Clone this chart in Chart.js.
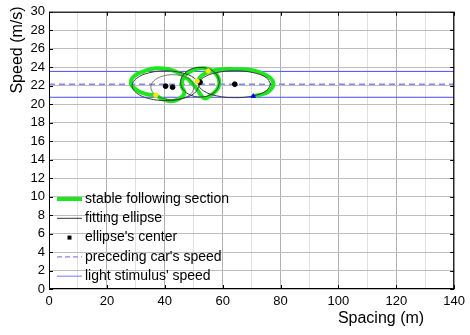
<!DOCTYPE html>
<html>
<head>
<meta charset="utf-8">
<script src="https://cdn.jsdelivr.net/npm/chart.js@4.4.0/dist/chart.umd.min.js"></script>
<style>
  html, body { margin: 0; padding: 0; background: #fff; }
</style>
</head>
<body>
<canvas id="chart" width="470" height="335"></canvas>
<script>
// axis ticks
const xTickLabels = [0, 20, 40, 60, 80, 100, 120, 140];
const yTickLabels = [0, 2, 4, 6, 8, 10, 12, 14, 16, 18, 20, 22, 24, 26, 28, 30];

// green trajectory (spacing m, speed m/s)
const stableLoopLeft = [
  [36.9, 20.98], [33.8, 21.08], [30.4, 21.51], [28.3, 22.27], [29.4, 23.02], [32.8, 23.56],
  [36.9, 23.89], [41.3, 23.78], [45.1, 23.35], [48.1, 22.70], [50.9, 21.73], [53.6, 20.65],
  [56.0, 20.98], [58.4, 21.73], [58.7, 22.70], [56.7, 23.56], [53.3, 23.89], [49.5, 23.67],
  [46.8, 23.02], [45.8, 22.05], [46.8, 21.19], [44.7, 20.54], [42.0, 20.33], [39.3, 20.54],
  [36.9, 20.98]
];
const stableLoopRight = [
  [51.2, 22.49], [52.9, 23.13], [55.7, 23.56], [60.1, 23.78], [65.2, 23.78], [70.3, 23.67],
  [74.4, 23.24], [77.2, 22.59], [77.2, 21.84], [74.8, 21.19], [70.6, 20.87]
];

// fitting ellipses
const ellipseA = [
  [51.9, 22.0], [50.3, 22.8], [46.1, 23.39], [40.3, 23.6], [34.5, 23.39], [30.3, 22.8],
  [28.7, 22.0], [30.3, 21.2], [34.5, 20.61], [40.3, 20.4], [46.1, 20.61], [50.3, 21.2], [51.9, 22.0]
];
const ellipseB = [
  [50.2, 21.84], [49.2, 22.52], [46.5, 23.01], [42.7, 23.19], [39.0, 23.01], [36.2, 22.52],
  [35.2, 21.84], [36.2, 21.17], [39.0, 20.67], [42.7, 20.49], [46.5, 20.67], [49.2, 21.17], [50.2, 21.84]
];
const ellipseC = [
  [58.9, 22.38], [58.0, 23.18], [55.6, 23.77], [52.2, 23.98], [48.9, 23.77], [46.4, 23.18],
  [45.5, 22.38], [46.4, 21.58], [48.9, 20.99], [52.2, 20.78], [55.6, 20.99], [58.0, 21.58], [58.9, 22.38]
];
const ellipseD = [
  [76.7, 22.16], [75.0, 22.89], [70.5, 23.42], [64.2, 23.61], [58.0, 23.42], [53.4, 22.89],
  [51.7, 22.16], [53.4, 21.44], [58.0, 20.9], [64.2, 20.71], [70.5, 20.9], [75.0, 21.44], [76.7, 22.16]
];
const ellipseCenters = [[40.3, 21.95], [42.7, 21.84], [52.2, 22.38], [64.2, 22.16]];

// start / end marks of the sections
const sectionStarts = [[36.9, 20.98], [51.2, 22.49], [55.0, 23.6]];
const sectionEnds = [[70.6, 20.87]];

// reference speeds
const precedingSpeed = 22.15;
const stimulusSpeeds = [23.55, 20.75];
const xRange = [0, 140];

const pts = arr => arr.map(([x, y]) => ({ x, y }));
const hline = y => xRange.map(x => ({ x, y }));

const GREEN = '#1ee61e';
const ELL = '#3a3a3a';
const DASH = '#8585ff';
const SOLID = '#4b4bff';

const labels = {
  stable: 'stable following section',
  ellipse: 'fitting ellipse',
  center: "ellipse's center",
  preceding: "preceding car's speed",
  stimulus: "light stimulus' speed"
};

const lineDs = (data, color, width, extra) => Object.assign({
  data: pts(data), showLine: true, borderColor: color, borderWidth: width,
  pointRadius: 0, fill: false, tension: 0.4
}, extra || {});

const datasets = [
  { data: pts(sectionEnds), pointStyle: 'triangle', pointRadius: 2.5, backgroundColor: '#0000ff', borderColor: '#0000ff', showLine: false },
  { data: pts(sectionStarts), pointRadius: 2.2, backgroundColor: '#ffe600', borderColor: '#ffe600', showLine: false },
  { label: labels.center, data: pts(ellipseCenters), pointRadius: 2.4, backgroundColor: '#000', borderColor: '#000', showLine: false },
  lineDs(ellipseA, ELL, 1, { label: labels.ellipse }),
  lineDs(ellipseB, '#555', 0.8),
  lineDs(ellipseC, ELL, 1),
  lineDs(ellipseD, ELL, 1),
  lineDs(stableLoopLeft, GREEN, 4, { label: labels.stable, tension: 0.45 }),
  lineDs(stableLoopRight, GREEN, 4, { tension: 0.45 }),
  { label: labels.preceding, data: hline(precedingSpeed), showLine: true, borderColor: DASH, borderWidth: 1.5, borderDash: [6, 4], pointRadius: 0 },
  { label: labels.stimulus, data: hline(stimulusSpeeds[0]), showLine: true, borderColor: SOLID, borderWidth: 1, pointRadius: 0 },
  { data: hline(stimulusSpeeds[1]), showLine: true, borderColor: SOLID, borderWidth: 1, pointRadius: 0 }
];

// legend inside the plot, bottom left
const legendRows = [
  { text: labels.stable, kind: 'line', color: GREEN, width: 4 },
  { text: labels.ellipse, kind: 'line', color: '#000', width: 0.8 },
  { text: labels.center, kind: 'dot', color: '#000' },
  { text: labels.preceding, kind: 'line', color: DASH, width: 1.2, dash: [5, 3] },
  { text: labels.stimulus, kind: 'line', color: '#8f8fff', width: 1.2 }
];

const decor = {
  id: 'decor',
  afterDraw(chart) {
    const { ctx, chartArea: a, scales } = chart;
    ctx.save();
    // frame and inner ticks
    ctx.strokeStyle = '#000';
    ctx.lineWidth = 1;
    ctx.strokeRect(a.left + 0.5, a.top + 0.5, a.right - a.left - 1, a.bottom - a.top - 1);
    ctx.beginPath();
    xTickLabels.forEach(v => {
      const x = Math.round(scales.x.getPixelForValue(v)) + 0.5;
      ctx.moveTo(x, a.bottom); ctx.lineTo(x, a.bottom - 4);
      ctx.moveTo(x, a.top); ctx.lineTo(x, a.top + 4);
    });
    yTickLabels.forEach(v => {
      const y = Math.round(scales.y.getPixelForValue(v)) + 0.5;
      ctx.moveTo(a.left, y); ctx.lineTo(a.left + 4, y);
      ctx.moveTo(a.right, y); ctx.lineTo(a.right - 4, y);
    });
    ctx.stroke();

    // legend
    ctx.font = '14px "Liberation Sans", Arial, sans-serif';
    ctx.textBaseline = 'middle';
    ctx.fillStyle = '#000';
    legendRows.forEach((r, i) => {
      const y = a.bottom - 90 + i * 19.3;
      const x0 = a.left + 8, x1 = a.left + 33;
      if (r.kind === 'line') {
        ctx.save();
        ctx.strokeStyle = r.color;
        ctx.lineWidth = r.width;
        ctx.setLineDash(r.dash || []);
        ctx.beginPath(); ctx.moveTo(x0, y); ctx.lineTo(x1, y); ctx.stroke();
        ctx.restore();
      } else {
        ctx.fillRect((x0 + x1) / 2 - 2, y - 2, 4, 4);
      }
      ctx.fillText(r.text, a.left + 36, y);
    });

    // axis titles
    ctx.font = '16px "Liberation Sans", Arial, sans-serif';
    ctx.textAlign = 'center';
    ctx.fillText('Spacing (m)', 381, 319);
    ctx.translate(18, 50);
    ctx.rotate(-Math.PI / 2);
    ctx.fillText('Speed (m/s)', 0, 0);
    ctx.restore();
  }
};

Chart.defaults.font.family = '"Liberation Sans", Arial, sans-serif';
Chart.defaults.font.size = 13;
Chart.defaults.color = '#000';

new Chart(document.getElementById('chart').getContext('2d'), {
  type: 'scatter',
  data: { datasets },
  options: {
    responsive: false,
    animation: false,
    layout: { padding: { top: 11, right: 11, left: 0, bottom: 0 } },
    plugins: { legend: { display: false }, tooltip: { enabled: false } },
    scales: {
      x: {
        min: xRange[0], max: xRange[1],
        afterFit: s => { s.height = 46; },
        border: { display: false },
        grid: {
          drawTicks: false,
          color: c => (c.tick && xTickLabels.includes(c.tick.value)) ? '#b0b0b0' : '#e0e0e0'
        },
        ticks: {
          stepSize: 10, padding: 5, maxRotation: 0, autoSkip: false,
          callback: v => xTickLabels.includes(v) ? String(v) : ''
        }
      },
      y: {
        min: yTickLabels[0], max: yTickLabels[yTickLabels.length - 1],
        afterFit: s => { s.width = 49; },
        border: { display: false },
        grid: { drawTicks: false, color: '#bdbdbd' },
        ticks: { stepSize: 2, padding: 4, autoSkip: false }
      }
    }
  },
  plugins: [decor]
});
</script>
</body>
</html>
